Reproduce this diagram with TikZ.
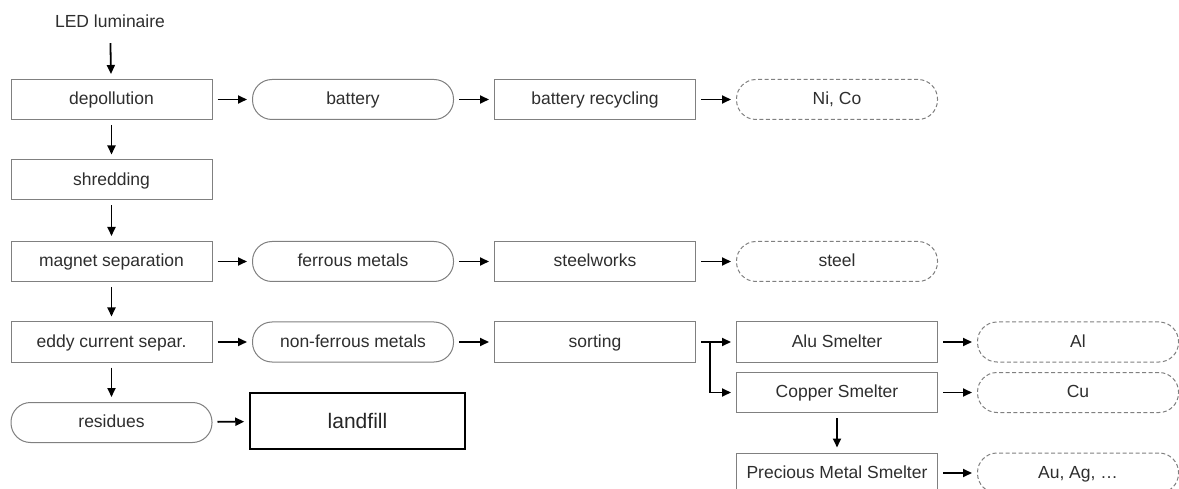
\documentclass[tikz,border=0pt]{standalone}
\usepackage{fontspec}
\setmainfont{Liberation Sans}
\usetikzlibrary{arrows.meta}
\begin{document}
\begin{tikzpicture}[x=1pt,y=-1pt,
  txt/.style={text=black!82, font=\fontsize{17.5pt}{20pt}\selectfont},
  box/.style={txt, draw=black!50, line width=1pt, minimum width=201pt, minimum height=40pt, inner sep=0pt, text depth=2pt},
  pill/.style={box, rounded corners=19.5pt},
  outp/.style={pill, dashed, dash pattern=on 4pt off 2.5pt},
  arr/.style={draw=black, line width=1.8pt, -{Triangle[length=9pt,width=8pt]}, shorten >=5pt, shorten <=5pt},
  ln/.style={draw=black, line width=1.8pt, shorten <=5pt}
]
\useasboundingbox (0,0) rectangle (1179,489);
% column 1
\node[txt, inner sep=0pt, minimum height=34pt] (led) at (110,21) {LED luminaire};
\node[box]  (dep) at (111.5,99.5) {depollution};
\node[box]  (shr) at (111.5,180) {shredding};
\node[box]  (mag) at (111.5,261.5) {magnet separation};
\node[box]  (edd) at (111.5,342) {eddy current separ.};
\node[pill] (res) at (111.5,422.5) {residues};
% column 2
\node[pill] (bat) at (353,99.5) {battery};
\node[pill] (fer) at (353,261.5) {ferrous metals};
\node[pill] (nfe) at (353,342) {non-ferrous metals};
\node[draw=black, line width=1.5pt, minimum width=215pt, minimum height=56pt, inner sep=0pt, text=black!85, font=\fontsize{21pt}{24pt}\selectfont] (lan) at (357.5,421) {landfill};
% column 3
\node[box] (brc) at (595,99.5) {battery recycling};
\node[box] (stw) at (595,261.5) {steelworks};
\node[box] (srt) at (595,342) {sorting};
% column 4
\node[outp] (nico) at (837,99.5) {Ni, Co};
\node[outp] (stl) at (837,261.5) {steel};
\node[box] (alu) at (837,342) {Alu Smelter};
\node[box] (cop) at (837,392.5) {Copper Smelter};
\node[box] (pms) at (837,473) {Precious Metal Smelter};
% column 5
\node[outp] (al) at (1078,342) {Al};
\node[outp] (cu) at (1078,392.5) {Cu};
\node[outp] (au) at (1078,473) {Au, Ag, \dots};
\coordinate (j) at (710,342);
% connectors
\draw[arr] (led) -- (dep);
\draw[arr] (dep) -- (shr);
\draw[arr] (shr) -- (mag);
\draw[arr] (mag) -- (edd);
\draw[arr] (edd) -- (res);
\draw[arr] (dep) -- (bat);
\draw[arr] (bat) -- (brc);
\draw[arr] (brc) -- (nico);
\draw[arr] (mag) -- (fer);
\draw[arr] (fer) -- (stw);
\draw[arr] (stw) -- (stl);
\draw[arr] (edd) -- (nfe);
\draw[arr] (nfe) -- (srt);
\draw[arr] (res) -- (lan);
\draw[ln] (srt) -- (j);
\draw[arr, shorten <=0pt] (j) -- (alu);
\draw[arr, shorten <=0pt] (j) |- (cop);
\draw[arr] (cop) -- (pms);
\draw[arr] (alu) -- (al);
\draw[arr] (cop) -- (cu);
\draw[arr] (pms) -- (au);
\end{tikzpicture}
\end{document}
